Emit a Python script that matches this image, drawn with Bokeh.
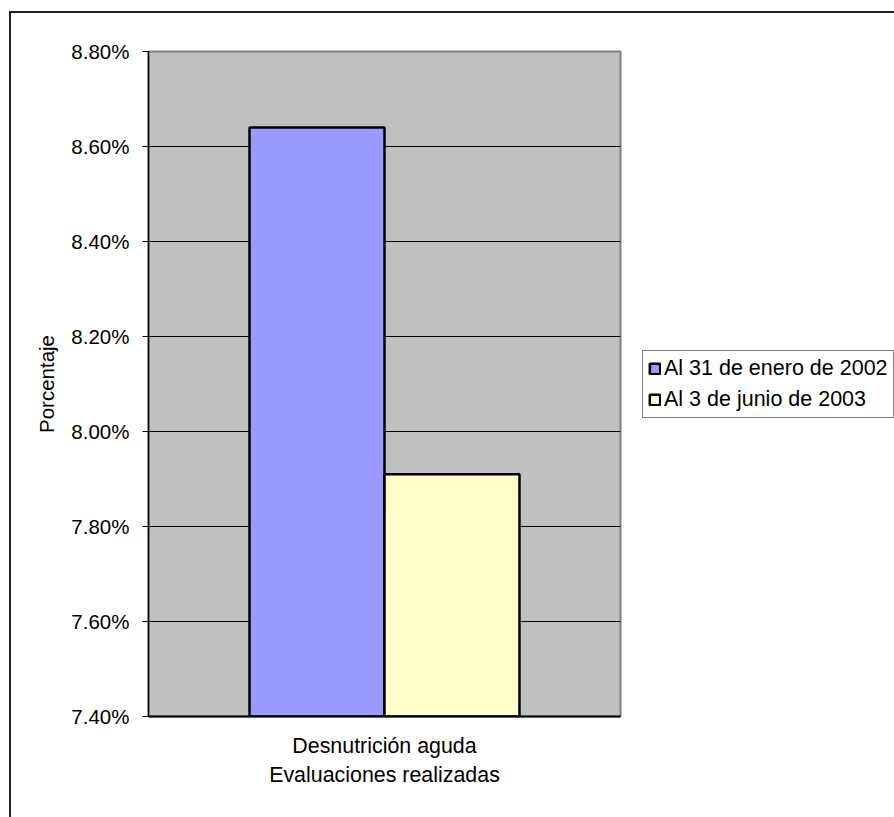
from bokeh.plotting import figure
from bokeh.models import (FactorRange, Range1d, FixedTicker, NumeralTickFormatter,
                          ColumnDataSource, Legend, LegendItem)
from bokeh.transform import dodge
from bokeh.embed import file_html
from bokeh.resources import INLINE

categories = ["Desnutrición aguda"]
series_names = ["Al 31 de enero de 2002", "Al 3 de junio de 2003"]
values_2002 = [0.0864]
values_2003 = [0.0791]
y_ticks = [0.074, 0.076, 0.078, 0.080, 0.082, 0.084, 0.086, 0.088]

FONT = "Liberation Sans"

src = ColumnDataSource(data=dict(cat=categories, v1=values_2002, v2=values_2003))

p = figure(x_range=FactorRange(factors=categories, range_padding=0),
           y_range=Range1d(0.074, 0.088),
           frame_width=472, frame_height=665,
           min_border_left=148, min_border_top=51, min_border_bottom=101,
           min_border_right=274,
           output_backend="svg", toolbar_location=None)

p.background_fill_color = "#C0C0C0"
p.border_fill_color = "white"
p.border_fill_alpha = 0
p.outline_line_color = "#808080"
p.outline_line_width = 2

# outer chart-area frame (only its top and left edges fall inside the picture)
p.styles = {
    "background-color": "white",
    "background-image": "linear-gradient(#222222, #222222), linear-gradient(#222222, #222222)",
    "background-size": "2000px 2px, 2px 2000px",
    "background-position": "9px 11px, 9px 11px",
    "background-repeat": "no-repeat",
}

r1 = p.vbar(x=dodge("cat", -0.143, range=p.x_range), top="v1", bottom=0, width=0.286,
            source=src, fill_color="#9999FF", line_color="black", line_width=2.5)
r2 = p.vbar(x=dodge("cat", 0.143, range=p.x_range), top="v2", bottom=0, width=0.286,
            source=src, fill_color="#FFFFCC", line_color="black", line_width=2.5)

# grid
p.xgrid.grid_line_color = None
p.ygrid.grid_line_color = "black"
p.ygrid.grid_line_width = 1
p.ygrid.ticker = FixedTicker(ticks=y_ticks)
p.ygrid.level = "underlay"

# y axis
p.yaxis.ticker = FixedTicker(ticks=y_ticks)
p.yaxis.formatter = NumeralTickFormatter(format="0.00%")
p.yaxis.axis_label = "Porcentaje"
p.yaxis.axis_label_text_font = FONT
p.yaxis.axis_label_text_font_size = "20.5px"
p.yaxis.axis_label_text_font_style = "normal"
p.yaxis.axis_label_text_color = "black"
p.yaxis.axis_label_standoff = 10
p.yaxis.major_label_text_font = FONT
p.yaxis.major_label_text_font_size = "20.5px"
p.yaxis.major_label_text_color = "black"
p.yaxis.major_label_standoff = 13
p.yaxis.major_tick_out = 6
p.yaxis.major_tick_in = 0
p.yaxis.minor_tick_out = 0
p.yaxis.minor_tick_in = 0
p.yaxis.axis_line_color = "black"
p.yaxis.axis_line_width = 1.5
p.yaxis.major_tick_line_color = "black"

# x axis
p.xaxis.axis_label = "Evaluaciones realizadas"
p.xaxis.axis_label_text_font = FONT
p.xaxis.axis_label_text_font_size = "21.4px"
p.xaxis.axis_label_text_font_style = "normal"
p.xaxis.axis_label_text_color = "black"
p.xaxis.axis_label_standoff = 2
p.xaxis.major_label_text_font = FONT
p.xaxis.major_label_text_font_size = "21.4px"
p.xaxis.major_label_text_color = "black"
p.xaxis.major_label_standoff = 17
p.xaxis.major_tick_line_color = None
p.xaxis.major_tick_out = 0
p.xaxis.axis_line_color = "black"
p.xaxis.axis_line_width = 2

legend = Legend(items=[LegendItem(label=series_names[0], renderers=[r1]),
                       LegendItem(label=series_names[1], renderers=[r2])],
                location="left", orientation="vertical")
legend.margin = 22
legend.padding = 5
legend.spacing = 6
legend.glyph_width = 13
legend.glyph_height = 13
legend.label_standoff = 3
legend.label_text_font = FONT
legend.label_text_font_size = "21.5px"
legend.label_text_color = "black"
legend.border_line_color = "black"
legend.border_line_width = 1
legend.background_fill_color = "white"
legend.background_fill_alpha = 1
p.add_layout(legend, "right")

open("out.html", "w").write(file_html(p, INLINE))
